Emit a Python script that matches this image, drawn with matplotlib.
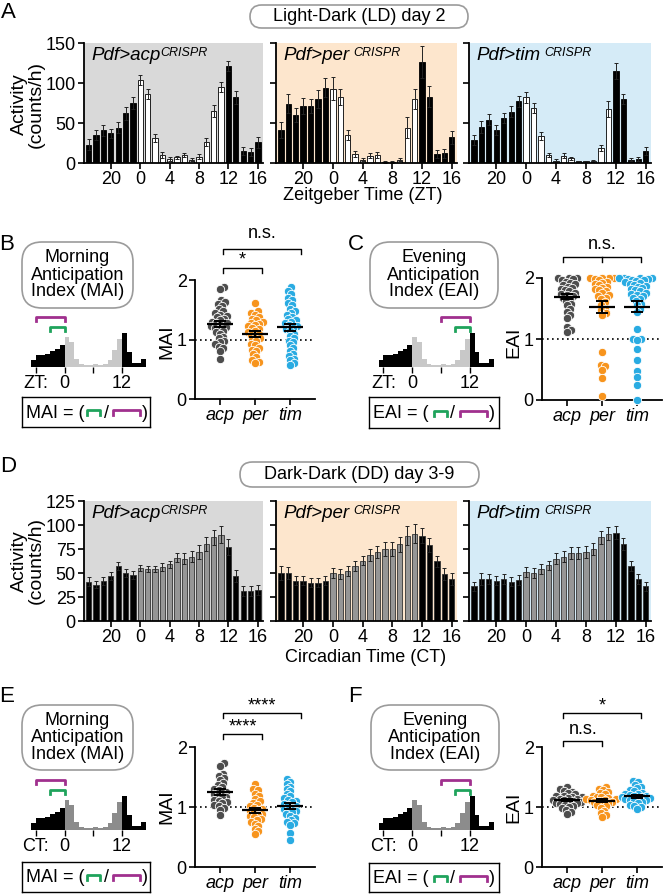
import numpy as np
import matplotlib
matplotlib.use("Agg")
import matplotlib.pyplot as plt
from matplotlib.patches import FancyBboxPatch

plt.rcParams['font.family'] = ['Liberation Sans', 'DejaVu Sans']
plt.rcParams['font.size'] = 13
plt.rcParams['axes.linewidth'] = 1.3

W, H = 664, 894

# hourly bins shown: ZT/CT 17..23 then 0..16
bin_ticks = [3, 7, 11, 15, 19, 23]
bin_labels = ['20', '0', '4', '8', '12', '16']
is_day = [False] * 7 + [True] * 12 + [False] * 5

genotypes = ['acp', 'per', 'tim']
panel_titles = ['Pdf>acp', 'Pdf>per', 'Pdf>tim']
panel_bg = ['#d9d9d9', '#fde6cd', '#d5ebf7']
dot_colors = ['#4d4d4d', '#f7941d', '#29abe2']
green = '#1fa35c'
magenta = '#a0308e'

# LD day 2 activity (counts/h), mean and sem
acp_ld = [23, 35, 41, 37, 44, 62, 75, 104, 86, 31, 10, 5, 7, 10, 4, 8, 26, 65, 95, 121, 82, 15, 14, 26]
acp_ld_err = [7, 6, 7, 6, 7, 8, 7, 6, 6, 5, 4, 2, 2, 3, 2, 3, 5, 7, 6, 6, 8, 5, 5, 7]
per_ld = [41, 74, 60, 71, 71, 80, 94, 93, 83, 35, 11, 4, 9, 10, 1, 1, 4, 44, 80, 126, 83, 11, 12, 32]
per_ld_err = [10, 12, 9, 10, 9, 11, 12, 14, 10, 6, 4, 2, 3, 4, 1, 1, 2, 13, 13, 20, 13, 5, 6, 8]
tim_ld = [29, 45, 54, 41, 56, 64, 77, 82, 69, 34, 10, 3, 9, 6, 2, 2, 2.5, 19, 68, 115, 80, 4, 5, 15]
tim_ld_err = [6, 7, 7, 6, 6, 7, 7, 7, 6, 5, 3, 2, 3, 2, 1, 1, 1, 4, 10, 10, 6, 2, 2, 5]

# DD day 3-9 activity
acp_dd = [41, 38, 42, 47, 57, 50, 48, 55, 54, 54, 56, 59, 66, 65, 67, 72, 80, 87, 90, 77, 47, 31, 31, 32]
acp_dd_err = [5, 4, 4, 4, 4, 4, 4, 3, 3, 3, 4, 4, 5, 6, 6, 7, 7, 8, 9, 8, 6, 5, 5, 5]
per_dd = [50, 50, 42, 42, 40, 40, 42, 50, 49, 52, 57, 63, 69, 72, 75, 75, 80, 89, 91, 89, 79, 62, 49, 44]
per_dd_err = [7, 6, 5, 5, 5, 5, 5, 5, 5, 5, 5, 5, 6, 6, 7, 7, 8, 10, 10, 8, 7, 6, 6, 6]
tim_dd = [36, 44, 44, 42, 44, 41, 43, 51, 50, 54, 58, 65, 67, 71, 71, 72, 75, 87, 91, 92, 80, 57, 44, 36]
tim_dd_err = [5, 6, 5, 5, 5, 5, 5, 5, 5, 5, 5, 6, 6, 6, 6, 6, 6, 7, 7, 7, 6, 5, 5, 5]

# schematic profile used in the index cartoons
schema = [22, 35, 37, 38, 48, 55, 65, 90, 75, 25, 10, 7, 7, 8, 7, 10, 22, 50, 85, 102, 45, 12, 12, 25]

# anticipation indices, one value per fly
acp_mai_ld = [1.88, 1.85, 1.66, 1.63, 1.60, 1.57, 1.52, 1.48, 1.45, 1.42, 1.40, 1.38, 1.35, 1.33,
              1.30, 1.28, 1.27, 1.25, 1.23, 1.21, 1.20, 1.18, 1.15, 1.12, 1.10, 1.05, 1.02, 0.98,
              0.95, 0.92, 0.88, 0.85, 0.80, 0.67]
per_mai_ld = [1.62, 1.48, 1.45, 1.42, 1.38, 1.35, 1.32, 1.30, 1.28, 1.26, 1.25, 1.22, 1.20, 1.18,
              1.15, 1.12, 1.10, 1.08, 1.05, 1.02, 1.00, 0.97, 0.93, 0.90, 0.86, 0.82, 0.80, 0.75,
              0.70, 0.66, 0.62, 0.60]
tim_mai_ld = [1.88, 1.82, 1.76, 1.70, 1.66, 1.62, 1.58, 1.52, 1.48, 1.45, 1.42, 1.38, 1.35, 1.32,
              1.30, 1.27, 1.24, 1.22, 1.20, 1.17, 1.14, 1.10, 1.06, 1.02, 0.98, 0.95, 0.90, 0.85,
              0.80, 0.75, 0.72, 0.68, 0.65, 0.60, 0.57]
acp_eai_ld = [2.0, 2.0, 2.0, 1.98, 1.96, 1.94, 1.92, 1.90, 1.88, 1.86,
              1.84, 1.82, 1.80, 1.78, 1.76, 1.74, 1.72, 1.70, 1.68, 1.65, 1.62, 1.58, 1.55,
              1.50, 1.45, 1.40, 1.35, 1.20, 1.15, 1.12]
per_eai_ld = [2.0, 2.0, 2.0, 2.0, 1.98, 1.96, 1.94, 1.92, 1.90, 1.88, 1.86,
              1.84, 1.82, 1.80, 1.78, 1.75, 1.72, 1.70, 1.68, 1.65, 1.60, 1.55, 1.50, 1.47, 1.43,
              1.40, 0.78, 0.58, 0.55, 0.50, 0.36, 0.07]
tim_eai_ld = [2.0, 2.0, 2.0, 2.0, 1.99, 1.98, 1.97, 1.96, 1.95, 1.93, 1.92, 1.90, 1.89, 1.87,
              1.86, 1.84, 1.82, 1.80, 1.78, 1.76, 1.74, 1.72, 1.70, 1.68, 1.65, 1.62, 1.58, 1.55,
              1.50, 1.45, 1.17, 1.00, 1.00, 0.98, 0.83, 0.66, 0.47, 0.37, 0.25, 0.0]
acp_mai_dd = [1.73, 1.69, 1.55, 1.52, 1.48, 1.45, 1.40, 1.36, 1.33, 1.30, 1.28, 1.25, 1.23, 1.21,
              1.19, 1.17, 1.15, 1.12, 1.10, 1.08, 1.06, 1.04, 1.02, 0.98, 0.95, 0.86]
per_mai_dd = [1.38, 1.30, 1.28, 1.22, 1.18, 1.14, 1.10, 1.07, 1.04, 1.01, 0.99, 0.97, 0.95, 0.93,
              0.91, 0.89, 0.87, 0.85, 0.83, 0.80, 0.78, 0.75, 0.72, 0.68, 0.64, 0.60, 0.55]
tim_mai_dd = [1.47, 1.42, 1.38, 1.34, 1.30, 1.26, 1.22, 1.18, 1.15, 1.12, 1.10, 1.08, 1.05, 1.03,
              1.01, 0.99, 0.97, 0.95, 0.93, 0.91, 0.88, 0.85, 0.82, 0.78, 0.75, 0.73, 0.70, 0.57,
              0.45]
acp_eai_dd = [1.33, 1.30, 1.27, 1.25, 1.23, 1.21, 1.19, 1.18, 1.17, 1.16, 1.15, 1.14, 1.13, 1.12,
              1.11, 1.10, 1.09, 1.08, 1.07, 1.06, 1.05, 1.04, 1.02, 1.00, 0.98, 0.95, 0.92, 0.88]
per_eai_dd = [1.33, 1.30, 1.28, 1.25, 1.23, 1.21, 1.19, 1.17, 1.16, 1.15, 1.14, 1.13, 1.12, 1.11,
              1.10, 1.09, 1.08, 1.07, 1.05, 1.03, 1.01, 0.98, 0.94, 0.90, 0.86, 0.83]
tim_eai_dd = [1.44, 1.41, 1.37, 1.34, 1.31, 1.28, 1.26, 1.24, 1.22, 1.21, 1.20, 1.19, 1.18, 1.17,
              1.16, 1.15, 1.14, 1.13, 1.12, 1.11, 1.10, 1.08, 1.06, 1.04, 1.02, 1.00, 0.97]

fig = plt.figure(figsize=(W / 100, H / 100), dpi=100)
fig.patch.set_facecolor('white')


def add_ax(x0, y0, x1, y1):
    # pixel box (top-left origin) -> figure axes
    return fig.add_axes([x0 / W, 1 - y1 / H, (x1 - x0) / W, (y1 - y0) / H])


def ftext(x, y, s, **kw):
    return fig.text(x / W, 1 - y / H, s, **kw)


def round_box(x0, y0, x1, y1, r, text, fs=13, ls=1.0):
    box = FancyBboxPatch((x0 / 100, (H - y1) / 100), (x1 - x0) / 100, (y1 - y0) / 100,
                         boxstyle=f"round,pad=0,rounding_size={r / 100}",
                         transform=fig.dpi_scale_trans, facecolor='white',
                         edgecolor='#9b9b9b', lw=1.2)
    fig.add_artist(box)
    ftext((x0 + x1) / 2, (y0 + y1) / 2, text, ha='center', va='center', fontsize=fs,
          linespacing=ls)


def activity_row(y0, y1, data, errs, ymax, yticks, day_color, edge):
    xs = np.arange(24)
    for k, (x0, x1) in enumerate([(84, 263), (276, 457), (469, 651)]):
        ax = add_ax(x0, y0, x1, y1)
        ax.set_facecolor(panel_bg[k])
        cols = [day_color if d else 'black' for d in is_day]
        ax.bar(xs, data[k], width=0.72, color=cols, edgecolor=edge, linewidth=0.6,
               yerr=errs[k], error_kw=dict(ecolor='#222222', elinewidth=0.7, capsize=1.5,
                                           capthick=0.7))
        ax.set_xlim(-0.65, 23.7)
        ax.set_ylim(0, ymax)
        ax.set_yticks(yticks)
        if k > 0:
            ax.set_yticklabels([])
        ax.set_xticks(bin_ticks)
        ax.set_xticklabels(bin_labels)
        ax.tick_params(length=4, width=1.2, labelsize=13, pad=2)
        for s in ['top', 'right']:
            ax.spines[s].set_visible(False)
        t = ax.text(0.04, 0.965, panel_titles[k], transform=ax.transAxes, ha='left', va='top',
                    fontsize=13.5, style='italic')
        ax.annotate('CRISPR', xy=(1, 1), xycoords=t, xytext=(0 if k == 0 else 3, 0),
                    textcoords='offset points', ha='left', va='top', fontsize=9,
                    style='italic')


def swarm_x(vals, d=4.4, ypx=60.0, xpx=35.0):
    vals = np.asarray(vals, float)
    xs = np.zeros(len(vals))
    placed = []
    for i in np.argsort(vals):
        y = vals[i] * ypx
        cands = [0.0]
        for py, px in placed:
            dy = abs(py - y)
            if dy < d:
                dx = np.sqrt(d * d - dy * dy)
                cands += [px + dx, px - dx]
        cands.sort(key=abs)
        for c in cands:
            if all((c - px) ** 2 + (y - py) ** 2 >= d * d - 1e-6 for py, px in placed):
                xs[i] = c
                break
        placed.append((y, xs[i]))
    return xs / xpx


def scatter_panel(rect, groups, ylabel, ylab_xy):
    ax = add_ax(*rect)
    for k, vals in enumerate(groups):
        ax.scatter(k + swarm_x(vals), vals, s=36, c=dot_colors[k], edgecolors='white',
                   linewidths=0.6, zorder=3, clip_on=False)
        m = np.mean(vals)
        se = np.std(vals, ddof=1) / np.sqrt(len(vals))
        ax.hlines(m, k - 0.36, k + 0.36, color='black', lw=1.6, zorder=4)
        ax.errorbar(k, m, yerr=se, fmt='none', ecolor='black', elinewidth=1.4, capsize=4,
                    capthick=1.4, zorder=4)
    ax.axhline(1, color='black', ls=(0, (1, 2)), lw=1.2, zorder=2)
    ax.set_ylim(0, 2)
    ax.set_xlim(-0.71, 2.71)
    ax.set_yticks([0, 1, 2])
    ax.set_xticks([0, 1, 2])
    ax.set_xticklabels(genotypes, style='italic')
    ax.tick_params(length=4, width=1.2, labelsize=13, pad=2)
    for s in ['top', 'right']:
        ax.spines[s].set_visible(False)
    ftext(*ylab_xy, ylabel, rotation=90, ha='center', va='center', fontsize=14)
    return ax


def bracket(ax, xa, xb, y, label, ty, mid=None, fs=13):
    h = 0.08
    ax.plot([xa, xa, xb, xb], [y - h, y, y, y - h], color='black', lw=1.0, clip_on=False)
    if mid is not None:
        ax.plot([mid, mid], [y, y - h], color='black', lw=1.0, clip_on=False)
    ax.text((xa + xb) / 2, ty, label, ha='center', va='center', fontsize=fs)


def inset(rect, day_color, lab, morning):
    ax = add_ax(*rect)
    hrs = np.arange(-7, 17)
    cols = [day_color if d else 'black' for d in is_day]
    ax.bar(hrs, schema, width=1.0, align='edge', color=cols, linewidth=0)
    ax.set_xlim(-7, 17)
    ax.set_ylim(0, 165)
    for s in ax.spines.values():
        s.set_visible(False)
    ax.set_yticks([])
    ax.set_xticks([-6, 0, 6, 12])
    ax.set_xticklabels([lab + ':', '0', '', '12'])
    ax.tick_params(axis='x', length=4, width=1.0, pad=2, labelsize=13)
    if morning:
        big, small = (-6, 0), (-3, 0)
    else:
        big, small = (6, 12), (9, 12)
    ax.plot([big[0], big[0], big[1], big[1]], [138, 150, 150, 138], color=magenta, lw=2)
    ax.plot([small[0], small[0], small[1], small[1]], [108, 120, 120, 108], color=green, lw=2)


def formula_box(x0, y0, x1, y1, name):
    ax = add_ax(x0, y0, x1, y1)
    ax.set_xlim(x0, x1)
    ax.set_ylim(y1, y0)
    ax.set_xticks([])
    ax.set_yticks([])
    for s in ax.spines.values():
        s.set_linewidth(1.0)
    yc = (y0 + y1) / 2
    ax.text(x0 + 4, yc + 1, name + ' = (', ha='left', va='center', fontsize=13)
    ax.plot([x0 + 65, x0 + 65, x0 + 78, x0 + 78], [yc + 3, yc - 2, yc - 2, yc + 3],
            color=green, lw=2)
    ax.text(x0 + 84, yc + 1, '/', ha='center', va='center', fontsize=13)
    ax.plot([x0 + 91, x0 + 91, x0 + 118, x0 + 118], [yc + 3, yc - 2, yc - 2, yc + 3],
            color=magenta, lw=2)
    ax.text(x0 + 123, yc + 1, ')', ha='center', va='center', fontsize=13)


# ---- A: LD activity ----
ftext(8, 12, 'A', ha='center', va='center', fontsize=16)
round_box(250, 5, 468, 28, 11.5, 'Light-Dark (LD) day 2')
activity_row(43, 163, [acp_ld, per_ld, tim_ld], [acp_ld_err, per_ld_err, tim_ld_err],
             150, [0, 50, 100, 150], 'white', 'black')
ftext(28, 104, 'Activity\n(counts/h)', rotation=90, ha='center', va='center', fontsize=14,
      linespacing=1.0)
ftext(363, 196, 'Zeitgeber Time (ZT)', ha='center', va='center', fontsize=13)

# ---- B: MAI LD ----
ftext(7, 245, 'B', ha='center', va='center', fontsize=16)
round_box(22, 242, 133, 308, 20, 'Morning\nAnticipation\nIndex (MAI)')
inset((31, 312, 146, 367), '#c8c8c8', 'ZT', True)
formula_box(22, 397, 150, 427, 'MAI')
axB = scatter_panel((195, 280, 315, 399), [acp_mai_ld, per_mai_ld, tim_mai_ld], 'MAI', (167, 342))
bracket(axB, 0.1, 1.2, 2.2, '*', 2.33)
bracket(axB, 0.1, 2.3, 2.52, 'n.s.', 2.78)

# ---- C: EAI LD ----
ftext(356, 245, 'C', ha='center', va='center', fontsize=16)
round_box(370, 242, 498, 308, 20, 'Evening\nAnticipation\nIndex (EAI)')
inset((378.7, 312, 493.7, 367), '#c8c8c8', 'ZT', False)
formula_box(369, 397, 499, 428, 'EAI')
axC = scatter_panel((542, 278, 662, 400), [acp_eai_ld, per_eai_ld, tim_eai_ld], 'EAI', (514, 342))
bracket(axC, -0.1, 2.1, 2.34, 'n.s.', 2.55, mid=1.0)

# ---- D: DD activity ----
ftext(8, 467, 'D', ha='center', va='center', fontsize=16)
round_box(240, 462, 479, 487, 12.5, 'Dark-Dark (DD) day 3-9')
activity_row(501, 621, [acp_dd, per_dd, tim_dd], [acp_dd_err, per_dd_err, tim_dd_err],
             125, [0, 25, 50, 75, 100, 125], '#969696', '#333333')
ftext(28, 561, 'Activity\n(counts/h)', rotation=90, ha='center', va='center', fontsize=14,
      linespacing=1.0)
ftext(366, 658, 'Circadian Time (CT)', ha='center', va='center', fontsize=13)

# ---- E: MAI DD ----
ftext(7, 697, 'E', ha='center', va='center', fontsize=16)
round_box(22, 705, 133, 770, 20, 'Morning\nAnticipation\nIndex (MAI)')
inset((31, 775, 146, 830), '#8c8c8c', 'CT', True)
formula_box(22, 862, 150, 892, 'MAI')
axE = scatter_panel((195, 747, 315, 867), [acp_mai_dd, per_mai_dd, tim_mai_dd], 'MAI', (167, 807))
bracket(axE, 0.1, 1.2, 2.22, '****', 2.33)
bracket(axE, 0.1, 2.3, 2.57, '****', 2.68)

# ---- F: EAI DD ----
ftext(355, 697, 'F', ha='center', va='center', fontsize=16)
round_box(371, 705, 499, 770, 20, 'Evening\nAnticipation\nIndex (EAI)')
inset((378.7, 775, 493.7, 830), '#8c8c8c', 'CT', False)
formula_box(369, 863, 499, 892, 'EAI')
axF = scatter_panel((542, 747, 662, 867), [acp_eai_dd, per_eai_dd, tim_eai_dd], 'EAI', (514, 807))
bracket(axF, -0.1, 1.0, 2.1, 'n.s.', 2.3)
bracket(axF, -0.1, 2.1, 2.57, '*', 2.68)

fig.savefig('out.png', dpi=100)
